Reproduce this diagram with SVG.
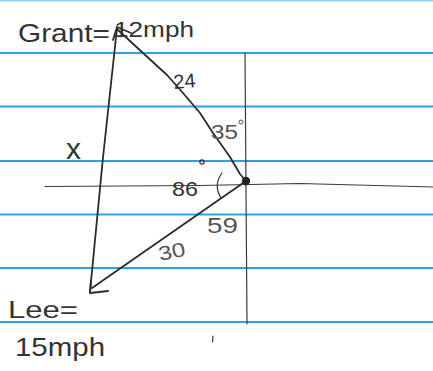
<svg xmlns="http://www.w3.org/2000/svg" width="433" height="371" viewBox="0 0 433 371">
<style>
.rule{stroke:#2aa3e6;stroke-width:2.2;fill:none}
.pen{stroke:#2b2b2b;stroke-width:1.8;fill:none;stroke-linecap:round;stroke-linejoin:round}
.thin{stroke:#3a3a3a;stroke-width:1.2;fill:none;stroke-linecap:round}
.t{font-family:"Liberation Sans","DejaVu Sans",sans-serif;fill:#333}
.g{fill:#555}
</style>
<rect width="433" height="371" fill="#ffffff"/>
<g id="paper">
<line class="rule" x1="0" y1="0.5" x2="433" y2="0.5" opacity="0.5"/>
<line class="rule" x1="0" y1="53" x2="433" y2="53"/>
<line class="rule" x1="0" y1="106.5" x2="433" y2="106.5"/>
<line class="rule" x1="0" y1="161" x2="433" y2="161"/>
<line class="rule" x1="0" y1="214.5" x2="433" y2="214.5"/>
<line class="rule" x1="0" y1="268" x2="433" y2="268"/>
<line class="rule" x1="0" y1="322" x2="433" y2="322"/>
</g>
<g id="axes">
<line class="thin" x1="245" y1="53" x2="247" y2="324"/>
<path class="thin" d="M45 186.5 L200 185.5 L300 183.5 L433 187"/>
</g>
<g id="triangle">
<path class="pen" d="M117 28 Q102 160 90 292"/>
<path class="pen" d="M117 29 L143 53 L167 75 L183 93 L200 113 L213 133 L230 157 L240 174 L246 181"/>
<path class="pen" d="M246 181 L92 288"/>
<path class="pen" d="M113 40 L117 27 L131 33"/>
<path class="pen" d="M91 280 L90 293 L108 291"/>
<path class="thin" d="M222 173 Q213 185 221 198"/>
<circle cx="246" cy="181" r="4.2" fill="#222"/>
</g>
<g id="labels">
<text class="t" x="18" y="42" font-size="26" textLength="92" lengthAdjust="spacingAndGlyphs">Grant=</text>
<text class="t" x="114" y="37" font-size="22" textLength="80" lengthAdjust="spacingAndGlyphs">12mph</text>
<text class="t" x="174" y="89" font-size="20" transform="rotate(-5 174 89)">24</text>
<text class="t g" x="211" y="139" font-size="20" textLength="27" lengthAdjust="spacingAndGlyphs">35</text>
<circle cx="241" cy="122" r="2" fill="none" stroke="#555" stroke-width="1"/>
<circle cx="202" cy="162" r="2.2" fill="none" stroke="#333" stroke-width="1.2"/>
<text class="t" x="172" y="196" font-size="20" textLength="26" lengthAdjust="spacingAndGlyphs">86</text>
<text class="t" x="66" y="159" font-size="30">x</text>
<text class="t g" x="207" y="233" font-size="22" textLength="31" lengthAdjust="spacingAndGlyphs">59</text>
<text class="t g" x="160" y="261" font-size="20" transform="rotate(-12 160 261)" textLength="27" lengthAdjust="spacingAndGlyphs">30</text>
<text class="t" x="8" y="318" font-size="24" textLength="70" lengthAdjust="spacingAndGlyphs">Lee=</text>
<text class="t" x="15" y="356" font-size="26" textLength="90" lengthAdjust="spacingAndGlyphs">15mph</text>
<line class="thin" x1="213" y1="336" x2="212.5" y2="342"/>
</g>
</svg>
